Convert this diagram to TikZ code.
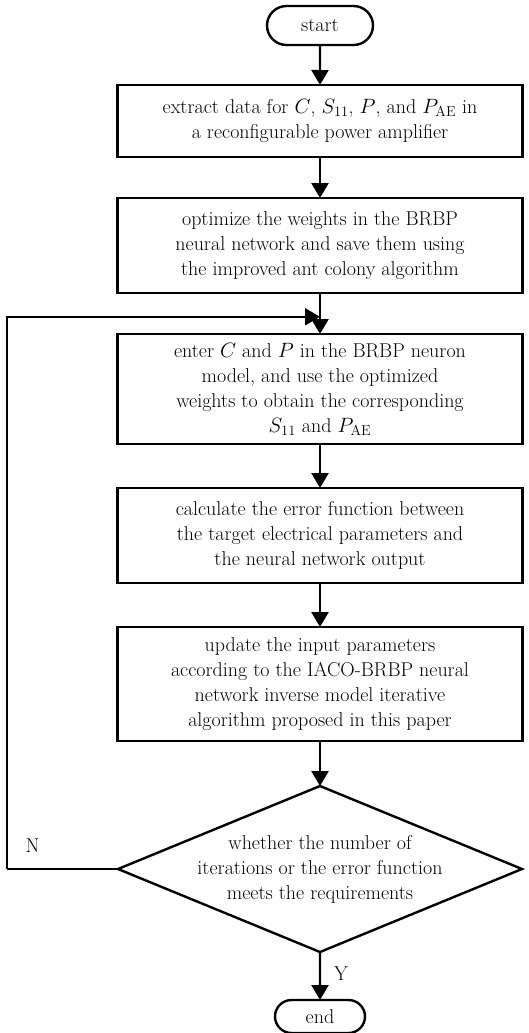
\documentclass[tikz,border=0pt]{standalone}
\usepackage{amsmath,amssymb}
\usepackage{xcolor}
\usepackage{tikz}
\usetikzlibrary{shapes.geometric, shapes.misc, arrows.meta, positioning, calc}
\tikzset{
  block/.style={rectangle, draw=black, fill=white, minimum width=405pt,
                align=center, font=\fontsize{20}{25}\selectfont, line width=2.4pt,
                inner sep=4pt, outer sep=0pt},
  terminal/.style={rounded rectangle, draw=black, fill=white, align=center,
                   font=\fontsize{20}{25}\selectfont, line width=2.4pt, inner sep=2pt,
                   outer sep=0pt},
  decision/.style={diamond, draw=black, fill=white, minimum width=404pt,
                   minimum height=166pt, aspect=2.4, inner sep=-20pt, align=center,
                   font=\fontsize{20}{25}\selectfont, line width=2.4pt, outer sep=0pt},
  arrow/.style={-{Triangle[length=15pt, width=17pt]}, draw=black, line width=2.4pt},
  line/.style={draw=black, line width=2.4pt},
  label/.style={font=\fontsize{20}{25}\selectfont, text=black, inner sep=1pt},
}

\begin{document}
\begin{tikzpicture}[node distance=43pt, x=1pt, y=1pt]
  \useasboundingbox (0,0) rectangle (529,-1033);

  % Nodes
  \node[terminal, minimum width=110pt, minimum height=39pt] (start) at (320,-25.5) {start};
  \node[block, minimum height=72pt, below=40pt of start] (extract)
    {extract data for $C$, $S_{11}$, $P$, and $P_{\mathrm{AE}}$ in\\
     a reconfigurable power amplifier};
  \node[block, minimum height=95pt, below=41pt of extract] (optimize)
    {optimize the weights in the BRBP\\
     neural network and save them using\\
     the improved ant colony algorithm};
  \node[block, minimum height=110pt, below=41pt of optimize] (enter)
    {enter $C$ and $P$ in the BRBP neuron\\
     model, and use the optimized\\
     weights to obtain the corresponding\\
     $S_{11}$ and $P_{\mathrm{AE}}$};
  \node[block, minimum height=95pt, below=44pt of enter] (error)
    {calculate the error function between\\
     the target electrical parameters and\\
     the neural network output};
  \node[block, minimum height=114pt, below=44pt of error] (update)
    {update the input parameters\\
     according to the IACO-BRBP neural\\
     network inverse model iterative\\
     algorithm proposed in this paper};
  \node[decision, below=45pt of update] (check)
    {whether the number of\\
     iterations or the error function\\
     meets the requirements};
  \node[terminal, minimum width=94pt, minimum height=33pt, below=48pt of check] (end) {end};

  % Edges
  \coordinate (join) at ($(optimize.south)!0.58!(enter.north)$);
  \coordinate (back) at ([xshift=-111pt]check.west);
  \draw[arrow] (start) -- (extract);
  \draw[arrow] (extract) -- (optimize);
  \draw[arrow] (optimize) -- (enter);
  \draw[arrow] (enter) -- (error);
  \draw[arrow] (error) -- (update);
  \draw[arrow] (update) -- (check);
  \draw[arrow] (check) -- node[label, right, xshift=12pt, yshift=2pt] {Y} (end);

  % Feedback loop when the requirements are not met
  \draw[line] (check.west) -- node[label, pos=0.77, above, yshift=14pt] {N} (back);
  \draw[arrow] (back) |- (join);

\end{tikzpicture}
\end{document}
